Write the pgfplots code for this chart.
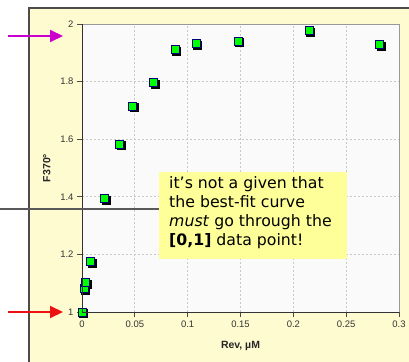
\documentclass[border=0pt]{standalone}
\usepackage{pgfplots}
\pgfplotsset{compat=1.18}
\usepackage{fontspec}
\setmainfont{Liberation Sans}
\newfontfamily\verd{DejaVu Sans}
\usetikzlibrary{arrows.meta}
\definecolor{panel}{RGB}{255,251,208}
\definecolor{boxy}{RGB}{255,255,153}
\definecolor{plotbg}{RGB}{250,250,250}
\definecolor{gridc}{RGB}{200,200,200}
\definecolor{mk}{RGB}{0,255,0}
\definecolor{mkb}{RGB}{0,0,120}
\definecolor{mag}{RGB}{204,0,204}
\definecolor{redA}{RGB}{238,17,17}
\begin{document}
\begin{tikzpicture}
\useasboundingbox (0,0) rectangle (409bp,-362bp);
\fill[panel] (29bp,-8bp) rectangle (409bp,-362bp);
\draw[line width=1.2bp,black!70] (29bp,-362bp) -- (29bp,-8bp) -- (409bp,-8bp);
\begin{axis}[
  at={(82bp,-312bp)}, anchor=south west,
  scale only axis, width=317bp, height=288bp,
  xmin=0, xmax=0.3, ymin=1, ymax=2,
  xtick={0,0.05,0.1,0.15,0.2,0.25,0.3},
  ytick={1,1.2,1.4,1.6,1.8,2},
  xticklabel style={/pgf/number format/fixed,/pgf/number format/precision=2},
  /pgf/number format/assume math mode=true,
  ticklabel style={font=\fontsize{9.5}{10}\selectfont, text=black!80},
  tick align=outside, tick pos=left,
  major tick length=5bp,
  tick style={black!70, line width=0.8bp},
  axis line style={draw=none},
  axis background/.style={fill=plotbg},
  grid=major,
  major grid style={gridc, dash pattern=on 2bp off 2bp, line width=0.7bp},
  xlabel={\textbf{Rev, µM}},
  ylabel={\textbf{F370°}},
  label style={font=\fontsize{10.5}{12}\selectfont, text=black!85},
  xlabel style={at={(axis description cs:0.5,-0.118)}, anchor=center},
  ylabel style={at={(axis description cs:-0.111,0.5)}, anchor=center},
  clip=false,
]
\addplot[only marks, mark=square*, mark size=4bp,
  mark options={fill=black, draw=black, xshift=1.5bp, yshift=-1.5bp}] coordinates {
(0,1.0) (0.0019,1.082) (0.0035,1.102) (0.0082,1.174) (0.0211,1.395)
(0.0357,1.583) (0.048,1.715) (0.068,1.797) (0.088,1.911) (0.108,1.932)
(0.1476,1.941) (0.215,1.976) (0.2817,1.929)};
\addplot[only marks, mark=square*, mark size=4bp,
  mark options={fill=mk, draw=mkb, line width=0.9bp}] coordinates {
(0,1.0) (0.0019,1.082) (0.0035,1.102) (0.0082,1.174) (0.0211,1.395)
(0.0357,1.583) (0.048,1.715) (0.068,1.797) (0.088,1.911) (0.108,1.932)
(0.1476,1.941) (0.215,1.976) (0.2817,1.929)};
\end{axis}
\draw[black!40, line width=0.8bp] (82bp,-24bp) -- (399bp,-24bp) -- (399bp,-312bp);
\draw[black!80, line width=1bp] (82bp,-24bp) -- (82bp,-312bp) -- (399bp,-312bp);
\draw[black!65, line width=1.3bp] (0,-209bp) -- (159bp,-209bp);
\fill[boxy] (159bp,-172bp) rectangle (347bp,-259bp);
\node[anchor=north west, inner sep=0pt, align=left, font=\verd\fontsize{15.8}{19}\selectfont]
  at (169bp,-176.5bp) {it’s not a given that\\the best-fit curve\\\textit{must} go through the\\\textbf{[0,1]} data point!};
\draw[mag, line width=2bp, -{Triangle[length=13bp,width=12bp]}] (8bp,-36bp) -- (63bp,-36bp);
\draw[redA, line width=2bp, -{Triangle[length=13bp,width=12bp]}] (8bp,-312bp) -- (63bp,-312bp);
\end{tikzpicture}
\end{document}
